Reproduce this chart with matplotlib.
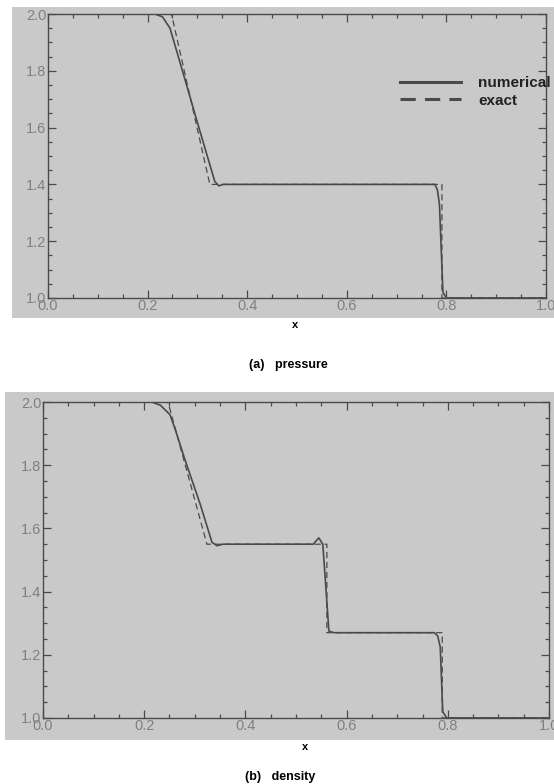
import matplotlib
matplotlib.use('Agg')
import matplotlib.pyplot as plt
from matplotlib.patches import Rectangle
from matplotlib.ticker import MultipleLocator

# pressure, numerical / exact
p_num_x = [0.0, 0.215, 0.23, 0.245, 0.255, 0.27, 0.303, 0.335, 0.343, 0.352,
           0.777, 0.782, 0.786, 0.793, 0.80, 1.0]
p_num_y = [2.0, 2.0, 1.99, 1.95, 1.89, 1.80, 1.60, 1.41, 1.395, 1.40,
           1.40, 1.38, 1.33, 1.02, 1.0, 1.0]
p_ex_x = [0.0, 0.248, 0.325, 0.791, 0.791, 1.0]
p_ex_y = [2.0, 2.0, 1.40, 1.40, 1.0, 1.0]

# density, numerical / exact
rho_num_x = [0.0, 0.215, 0.232, 0.251, 0.262, 0.28, 0.31, 0.334, 0.344, 0.355,
             0.534, 0.545, 0.553, 0.565, 0.575, 0.773, 0.78, 0.785, 0.79, 0.798, 1.0]
rho_num_y = [2.0, 2.0, 1.99, 1.96, 1.91, 1.82, 1.68, 1.556, 1.545, 1.55,
             1.55, 1.57, 1.55, 1.275, 1.27, 1.27, 1.26, 1.225, 1.02, 1.0, 1.0]
rho_ex_x = [0.0, 0.247, 0.324, 0.561, 0.561, 0.789, 0.789, 1.0]
rho_ex_y = [2.0, 2.0, 1.55, 1.55, 1.27, 1.27, 1.0, 1.0]

x_ticks = [0.0, 0.2, 0.4, 0.6, 0.8, 1.0]
y_ticks = [1.0, 1.2, 1.4, 1.6, 1.8, 2.0]

bg = '#c9c9c9'
ink = '#4a4a4a'
tick_col = '#808080'

plt.rcParams['font.family'] = ['Liberation Sans', 'DejaVu Sans']

fig = plt.figure(figsize=(5.54, 7.84), dpi=100)
fig.patch.set_facecolor('white')

# grey scanned panels behind the axes
fig.patches.append(Rectangle((0.0217, 0.5944), 0.978, 0.3967, transform=fig.transFigure,
                             facecolor=bg, edgecolor='none', zorder=-5))
fig.patches.append(Rectangle((0.009, 0.0561), 0.991, 0.4439, transform=fig.transFigure,
                             facecolor=bg, edgecolor='none', zorder=-5))

ax1 = fig.add_axes([0.0866, 0.6199, 0.899, 0.3622])
ax2 = fig.add_axes([0.0776, 0.0842, 0.9134, 0.4030])


def style(ax):
    ax.set_facecolor(bg)
    ax.set_xlim(0, 1)
    ax.set_ylim(1, 2)
    ax.set_xticks(x_ticks)
    ax.set_yticks(y_ticks)
    ax.set_xticklabels(['0.0', '0.2', '0.4', '0.6', '0.8', '1.0'])
    ax.set_yticklabels(['1.0', '1.2', '1.4', '1.6', '1.8', '2.0'])
    ax.xaxis.set_minor_locator(MultipleLocator(0.05))
    ax.yaxis.set_minor_locator(MultipleLocator(0.05))
    ax.tick_params(which='both', direction='in', top=True, right=True,
                   color=ink, width=0.9)
    ax.tick_params(which='major', length=6, labelsize=10.5, labelcolor=tick_col, pad=1)
    ax.tick_params(which='minor', length=3)
    for s in ax.spines.values():
        s.set_color(ink)
        s.set_linewidth(1.0)


style(ax1)
ax1.plot(p_num_x, p_num_y, color=ink, linewidth=1.2, label='numerical')
ax1.plot(p_ex_x, p_ex_y, color=ink, linewidth=0.9, linestyle=(0, (5, 3)), label='exact')
leg = ax1.legend(loc='upper left', bbox_to_anchor=(0.707, 0.782), frameon=False,
                 borderpad=0, borderaxespad=0, handlelength=4.0, handletextpad=1.1,
                 labelspacing=0.25, prop={'size': 11, 'weight': 'bold'})
for line in leg.get_lines():
    line.set_linewidth(2.2)
for t in leg.get_texts():
    t.set_color('#222222')

style(ax2)
ax2.plot(rho_num_x, rho_num_y, color=ink, linewidth=1.2)
ax2.plot(rho_ex_x, rho_ex_y, color=ink, linewidth=0.9, linestyle=(0, (5, 3)))

fig.text(0.533, 1 - 325 / 784, 'x', ha='center', va='center', fontsize=8, weight='bold')
fig.text(0.52, 1 - 365 / 784, '(a)   pressure', ha='center', va='center',
         fontsize=9, weight='bold')
fig.text(0.551, 1 - 747 / 784, 'x', ha='center', va='center', fontsize=8, weight='bold')
fig.text(0.505, 1 - 777 / 784, '(b)   density', ha='center', va='center',
         fontsize=9, weight='bold')

fig.savefig('out.png', dpi=100)
plt.close(fig)
